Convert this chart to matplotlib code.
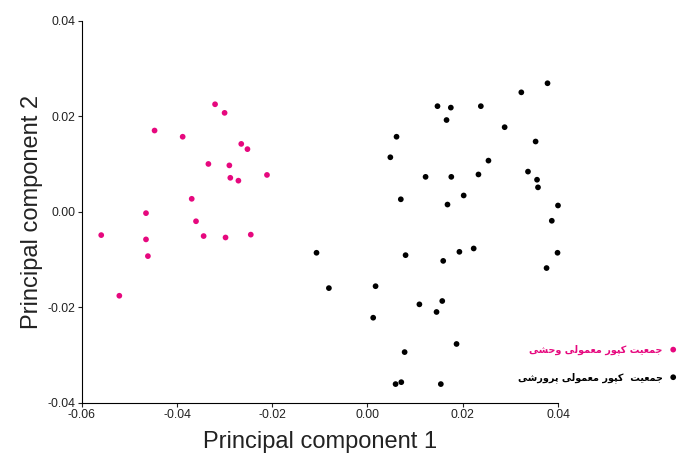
import matplotlib
matplotlib.use('Agg')
import matplotlib.pyplot as plt

# PCA scores
wild_x = [-0.0320, -0.0300, -0.0447, -0.0388, -0.0265, -0.0252, -0.0334, -0.0290,
          -0.0211, -0.0288, -0.0271, -0.0369, -0.0465, -0.0360, -0.0559, -0.0465,
          -0.0344, -0.0298, -0.0245, -0.0461, -0.0521]
wild_y = [0.0225, 0.0207, 0.0170, 0.0157, 0.0142, 0.0131, 0.0100, 0.0097,
          0.0077, 0.0071, 0.0065, 0.0027, -0.0003, -0.0020, -0.0049, -0.0058,
          -0.0051, -0.0054, -0.0048, -0.0093, -0.0176]

farm_x = [0.0378, 0.0323, 0.0147, 0.0175, 0.0238, 0.0166, 0.0288, 0.0061, 0.0353,
          0.0048, 0.0254, 0.0122, 0.0176, 0.0233, 0.0337, 0.0356, 0.0358, 0.0070,
          0.0202, 0.0168, 0.0400, 0.0387, -0.0107, 0.0080, 0.0159, 0.0193, 0.0223,
          0.0399, 0.0376, -0.0081, 0.0017, 0.0109, 0.0157, 0.0145, 0.0012, 0.0187,
          0.0078, 0.0071, 0.0059, 0.0154]
farm_y = [0.0269, 0.0250, 0.0221, 0.0218, 0.0221, 0.0192, 0.0177, 0.0157, 0.0147,
          0.0114, 0.0107, 0.0073, 0.0073, 0.0078, 0.0084, 0.0067, 0.0051, 0.0026,
          0.0034, 0.0015, 0.0013, -0.0019, -0.0086, -0.0091, -0.0103, -0.0084, -0.0077,
          -0.0086, -0.0118, -0.0160, -0.0156, -0.0194, -0.0187, -0.0210, -0.0222, -0.0277,
          -0.0294, -0.0357, -0.0361, -0.0361]

wild_label = 'جمعیت کپور معمولی وحشی'
farm_label = 'جمعیت  کپور معمولی پرورشی'

# matplotlib does no arabic shaping, so pick presentation forms by hand
forms = {
    'ج': ('\uFE9D', '\uFE9E', '\uFE9F', '\uFEA0'),
    'م': ('\uFEE1', '\uFEE2', '\uFEE3', '\uFEE4'),
    'ع': ('\uFEC9', '\uFECA', '\uFECB', '\uFECC'),
    'ی': ('\uFBFC', '\uFBFD', '\uFBFE', '\uFBFF'),
    'ت': ('\uFE95', '\uFE96', '\uFE97', '\uFE98'),
    'ک': ('\uFB8E', '\uFB8F', '\uFB90', '\uFB91'),
    'پ': ('\uFB56', '\uFB57', '\uFB58', '\uFB59'),
    'و': ('\uFEED', '\uFEEE', None, None),
    'ر': ('\uFEAD', '\uFEAE', None, None),
    'ل': ('\uFEDD', '\uFEDE', '\uFEDF', '\uFEE0'),
    'ح': ('\uFEA1', '\uFEA2', '\uFEA3', '\uFEA4'),
    'ش': ('\uFEB5', '\uFEB6', '\uFEB7', '\uFEB8'),
}


def shape(s):
    out = []
    for i, c in enumerate(s):
        if c not in forms:
            out.append(c)
            continue
        prev = s[i - 1] if i > 0 else ' '
        nxt = s[i + 1] if i + 1 < len(s) else ' '
        join_prev = prev in forms and forms[prev][2] is not None
        join_next = nxt in forms and forms[c][2] is not None
        f = forms[c]
        if join_prev and join_next:
            out.append(f[3])
        elif join_prev:
            out.append(f[1])
        elif join_next:
            out.append(f[2])
        else:
            out.append(f[0])
    return ''.join(out)[::-1]


plt.rcParams['font.family'] = ['Liberation Sans', 'DejaVu Sans']

fig = plt.figure(figsize=(6.78, 4.57), dpi=100)
ax = fig.add_axes([0.1205, 0.1188, 0.7025, 0.8359])

pink = '#e6087e'
ax.scatter(wild_x, wild_y, s=17, color=pink, edgecolors='none', clip_on=False,
           label=shape(wild_label))
ax.scatter(farm_x, farm_y, s=17, color='black', edgecolors='none', clip_on=False,
           label=shape(farm_label))

ax.set_xlim(-0.06, 0.04)
ax.set_ylim(-0.04, 0.04)
ax.set_xticks([-0.06, -0.04, -0.02, 0.00, 0.02, 0.04])
ax.set_yticks([-0.04, -0.02, 0.00, 0.02, 0.04])
ax.set_xticklabels(['-0.06', '-0.04', '-0.02', '0.00', '0.02', '0.04'])
ax.set_yticklabels(['-0.04', '-0.02', '0.00', '0.02', '0.04'])
ax.spines['top'].set_visible(False)
ax.spines['right'].set_visible(False)
ax.tick_params(labelsize=8.8, length=3, direction='out', colors='#222222', pad=1.5)
ax.set_xlabel('Principal component 1', fontsize=17, color='#222222', labelpad=7)
ax.set_ylabel('Principal component 2', fontsize=17, color='#222222', labelpad=3)

leg = fig.legend(loc='upper right', bbox_to_anchor=(1.0, 0.247), frameon=False,
                 markerfirst=False, labelspacing=1.75, handletextpad=0.6,
                 borderpad=0, borderaxespad=0, handlelength=1.0,
                 prop={'family': ['DejaVu Sans'], 'size': 6.9, 'weight': 'bold'})
leg.get_texts()[0].set_color(pink)

fig.savefig('out.png', dpi=100)
